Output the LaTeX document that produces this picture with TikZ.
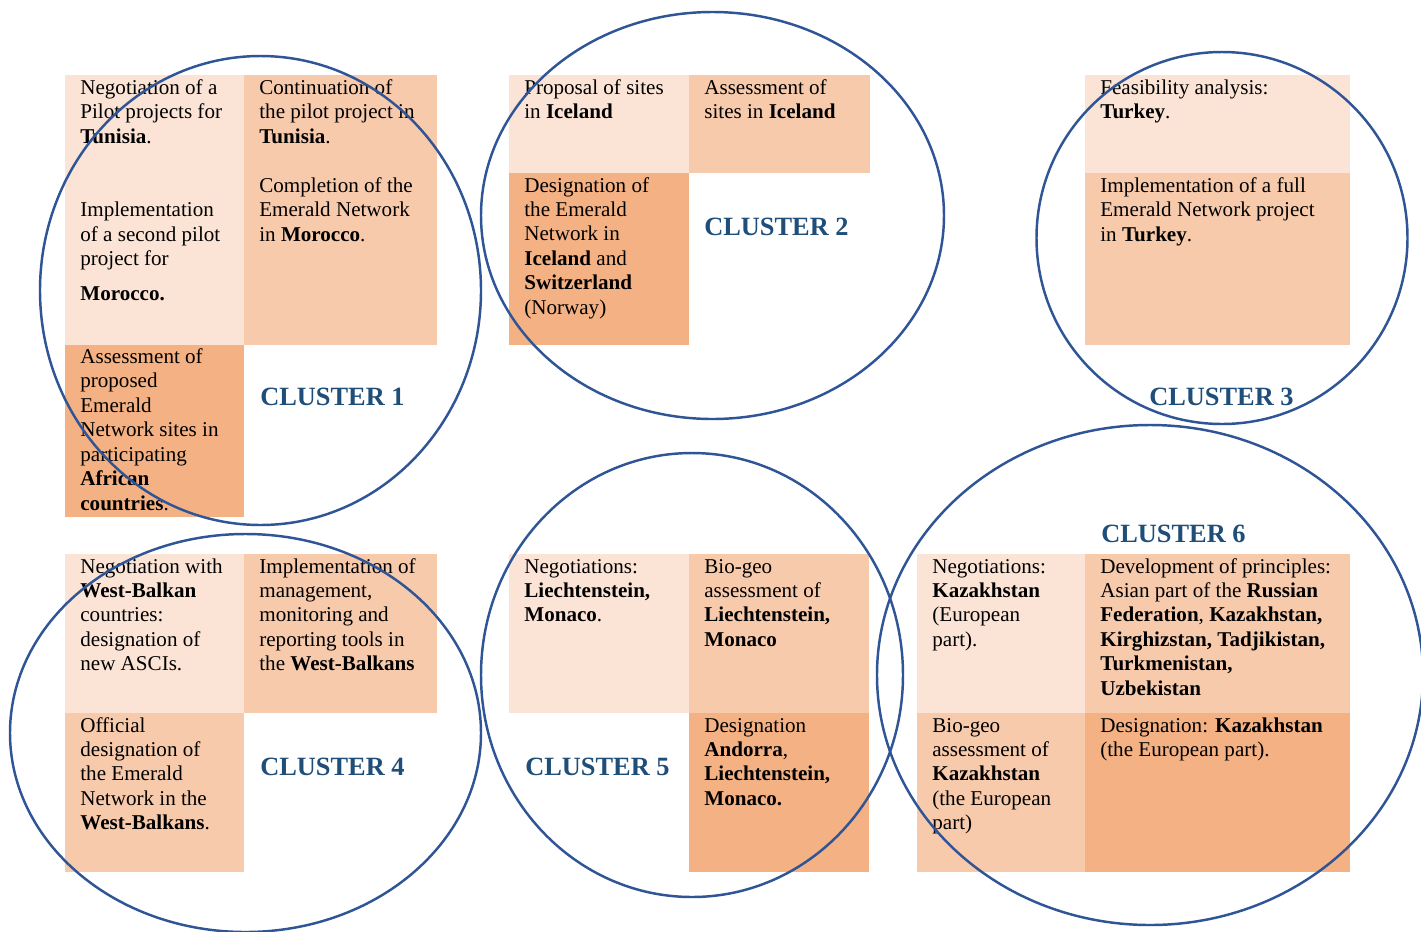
\documentclass[tikz,border=0pt]{standalone}
\usepackage{fontspec}
\setmainfont{Liberation Serif}
\definecolor{tintA}{HTML}{FBE4D5}
\definecolor{tintB}{HTML}{F7CAAC}
\definecolor{tintC}{HTML}{F4B183}
\definecolor{clusterblue}{HTML}{1F4E79}
\definecolor{ringblue}{HTML}{2F5597}
\newcommand\celllines[1]{\parbox[t]{7cm}{\raggedright #1}}
\begin{document}
\begin{tikzpicture}[x=0.02cm,y=-0.02cm,
  txt/.style={anchor=base west, inner sep=0pt, font=\fontsize{12pt}{13.9pt}\selectfont},
  title/.style={anchor=base west, inner sep=0pt, text=clusterblue, font=\fontsize{15pt}{18pt}\selectfont\bfseries},
  ring/.style={draw=ringblue, line width=1.4pt}]
\useasboundingbox[fill=white] (0,0) rectangle (1421,931);

% ---------- Cluster 1 ----------
\fill[tintA] (65,75) rectangle (244,345);
\fill[tintB] (244,75) rectangle (437,345);
\fill[tintC] (65,345) rectangle (244,517);
\node[txt] (c1a) at (80,94.5) {\celllines{Negotiation of a\\ Pilot projects for\\ \textbf{Tunisia}.}};
\node[txt] (c1b) at (80,216.8) {\celllines{Implementation\\ of a second pilot\\ project for}};
\node[txt] (c1c) at (80,300) {\textbf{Morocco.}};
\node[txt] (c1d) at (259,94.5) {\celllines{Continuation of\\ the pilot project in\\ \textbf{Tunisia}.}};
\node[txt] (c1e) at (259,192.5) {\celllines{Completion of the\\ Emerald Network\\ in \textbf{Morocco}.}};
\node[txt] (c1f) at (80,363.5) {\celllines{Assessment of\\ proposed\\ Emerald\\ Network sites in\\ participating\\ \textbf{African}\\ \textbf{countries}.}};
\node[title] (t1) at (260,405) {CLUSTER 1};

% ---------- Cluster 2 ----------
\fill[tintA] (509,75) rectangle (689,173);
\fill[tintB] (689,75) rectangle (870,173);
\fill[tintC] (509,173) rectangle (689,345);
\node[txt] (c2a) at (524,94) {\celllines{Proposal of sites\\ in \textbf{Iceland}}};
\node[txt] (c2b) at (704,94) {\celllines{Assessment of\\ sites in \textbf{Iceland}}};
\node[txt] (c2c) at (524,192) {\celllines{Designation of\\ the Emerald\\ Network in\\ \textbf{Iceland} and\\ \textbf{Switzerland}\\ (Norway)}};
\node[title] (t2) at (704,235) {CLUSTER 2};

% ---------- Cluster 3 ----------
\fill[tintA] (1085,75) rectangle (1350,173);
\fill[tintB] (1085,173) rectangle (1350,345);
\node[txt] (c3a) at (1100,94) {\celllines{Feasibility analysis:\\ \textbf{Turkey}.}};
\node[txt] (c3b) at (1100,192.5) {\celllines{Implementation of a full\\ Emerald Network project\\ in \textbf{Turkey}.}};
\node[title] (t3) at (1149,405) {CLUSTER 3};

% ---------- Cluster 4 ----------
\fill[tintA] (65,554) rectangle (244,713);
\fill[tintB] (244,554) rectangle (437,713);
\fill[tintB] (65,713) rectangle (244,872);
\node[txt] (c4a) at (80,573) {\celllines{Negotiation with\\ \textbf{West-Balkan}\\ countries:\\ designation of\\ new ASCIs.}};
\node[txt] (c4b) at (259,573) {\celllines{Implementation of\\ management,\\ monitoring and\\ reporting tools in\\ the \textbf{West-Balkans}}};
\node[txt] (c4c) at (80,732) {\celllines{Official\\ designation of\\ the Emerald\\ Network in the\\ \textbf{West-Balkans}.}};
\node[title] (t4) at (260,775) {CLUSTER 4};

% ---------- Cluster 5 ----------
\fill[tintA] (509,554) rectangle (689,713);
\fill[tintB] (689,554) rectangle (869,713);
\fill[tintC] (689,713) rectangle (869,872);
\node[txt] (c5a) at (524,573) {\celllines{Negotiations:\\ \textbf{Liechtenstein,}\\ \textbf{Monaco}.}};
\node[txt] (c5b) at (704,573) {\celllines{Bio-geo\\ assessment of\\ \textbf{Liechtenstein,}\\ \textbf{Monaco}}};
\node[txt] (c5c) at (704,732) {\celllines{Designation\\ \textbf{Andorra},\\ \textbf{Liechtenstein,}\\ \textbf{Monaco.}}};
\node[title] (t5) at (525,775) {CLUSTER 5};

% ---------- Cluster 6 ----------
\fill[tintA] (917,554) rectangle (1085,713);
\fill[tintB] (1085,554) rectangle (1350,713);
\fill[tintB] (917,713) rectangle (1085,872);
\fill[tintC] (1085,713) rectangle (1350,872);
\node[txt] (c6a) at (932,573) {\celllines{Negotiations:\\ \textbf{Kazakhstan}\\ (European\\ part).}};
\node[txt] (c6b) at (1100,573) {\celllines{Development of principles:\\ Asian part of the \textbf{Russian}\\ \textbf{Federation}, \textbf{Kazakhstan,}\\ \textbf{Kirghizstan, Tadjikistan,}\\ \textbf{Turkmenistan,}\\ \textbf{Uzbekistan}}};
\node[txt] (c6c) at (932,732) {\celllines{Bio-geo\\ assessment of\\ \textbf{Kazakhstan}\\ (the European\\ part)}};
\node[txt] (c6d) at (1100,732) {\celllines{Designation: \textbf{Kazakhstan}\\ (the European part).}};
\node[title] (t6) at (1101,542) {CLUSTER 6};

% ---------- cluster rings ----------
\draw[ring] (260.5,290.5) ellipse [x radius=220.5, y radius=234.5];
\draw[ring] (712.5,215.5) ellipse [x radius=231.5, y radius=203.5];
\draw[ring] (1222,238) ellipse [x radius=185.5, y radius=186];
\draw[ring] (245.5,733) ellipse [x radius=235.5, y radius=199];
\draw[ring] (692,675) ellipse [x radius=211, y radius=222];
\draw[ring] (1150,675) ellipse [x radius=273, y radius=250];
\end{tikzpicture}
\end{document}
